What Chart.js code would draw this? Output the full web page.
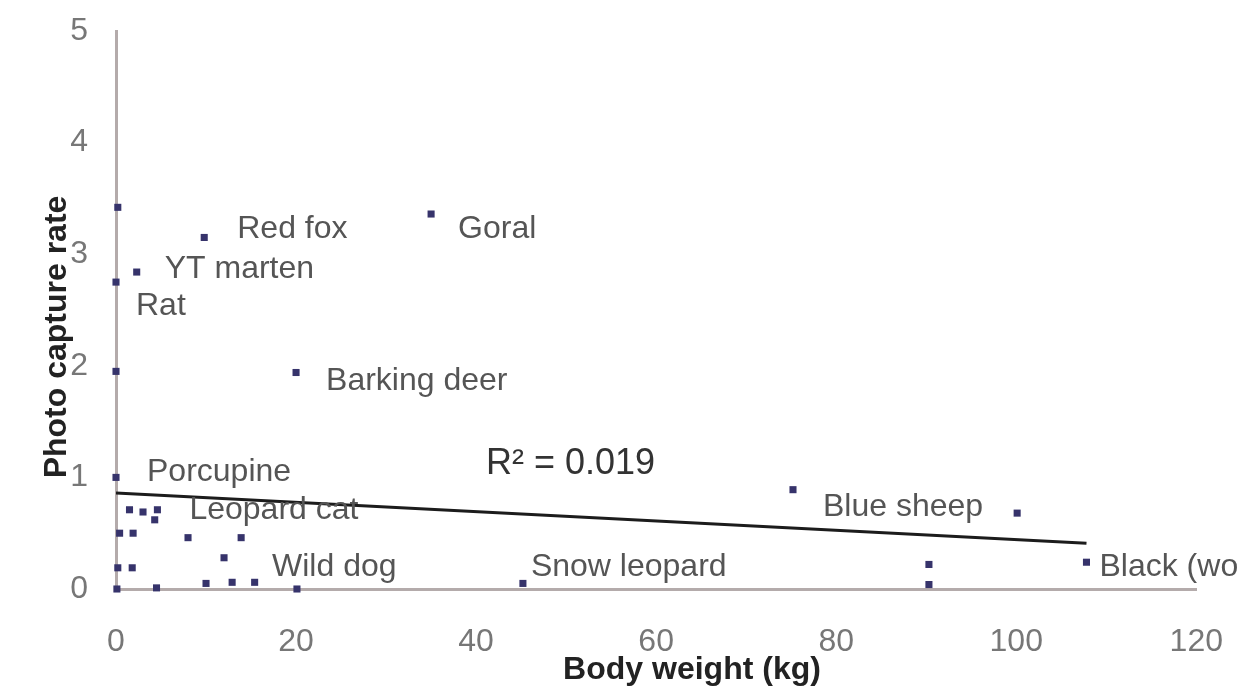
<!DOCTYPE html>
<html>
<head>
<meta charset="utf-8">
<script src="https://cdn.jsdelivr.net/npm/chart.js@4.4.1/dist/chart.umd.min.js"></script>
<style>
  body { margin: 0; background: #fff; }
  #wrap { width: 1249px; height: 699px; }
</style>
</head>
<body>
<div id="wrap"><canvas id="scatterChart"></canvas></div>
<script>
// Body weight (kg) and photo capture rate, one entry per species point
var bodyWeight  = [0.2, 9.8, 2.3, 0, 35, 20, 0, 0,
                   1.5, 3.0, 4.6, 4.3, 0.4, 1.9, 8, 13.9, 12, 0.2, 1.8,
                   0.1, 4.5, 10, 12.9, 15.4, 20.1,
                   45.2, 75.2, 100.1, 90.3, 90.3, 107.8];
var captureRate = [3.42, 3.15, 2.84, 2.75, 3.36, 1.94, 1.95, 1.0,
                   0.71, 0.69, 0.71, 0.62, 0.50, 0.50, 0.46, 0.46, 0.28, 0.19, 0.19,
                   0, 0.01, 0.05, 0.06, 0.06, 0,
                   0.05, 0.89, 0.68, 0.22, 0.04, 0.24];
var speciesNames = ['', 'Red fox', 'YT marten', 'Rat', 'Goral', 'Barking deer', '', 'Porcupine',
                    '', '', 'Leopard cat', '', '', '', '', '', 'Wild dog', '', '',
                    '', '', '', '', '', '',
                    'Snow leopard', 'Blue sheep', '', '', '', 'Black (wo'];

// linear trend line end points
var trendX = [0, 107.8];
var trendY = [0.86, 0.41];
var rSquared = 'R\u00b2 = 0.019';

var xTitle = 'Body weight (kg)';
var yTitle = 'Photo capture rate';

// label offsets from their point (px)
var labelOffsets = {
    'Red fox': [33, -8], 'Goral': [27, 15], 'YT marten': [28, -3], 'Rat': [20, 24],
    'Barking deer': [30, 9], 'Porcupine': [31, -5], 'Leopard cat': [32, 0],
    'Wild dog': [48, 9], 'Snow leopard': [8, -16], 'Blue sheep': [30, 17], 'Black (wo': [13, 5]
};

var fontFamily = '"Liberation Sans", Arial, sans-serif';

var points = bodyWeight.map(function (x, i) { return { x: x, y: captureRate[i] }; });
var trend = trendX.map(function (x, i) { return { x: x, y: trendY[i] }; });

// draws species names, R² text and axis titles
var textPlugin = {
    id: 'textPlugin',
    afterDatasetsDraw: function (chart) {
        var ctx = chart.ctx;
        var meta = chart.getDatasetMeta(0);
        var area = chart.chartArea;
        ctx.save();
        ctx.textBaseline = 'middle';
        ctx.textAlign = 'left';
        ctx.fillStyle = '#555';
        ctx.font = '32px ' + fontFamily;
        meta.data.forEach(function (el, i) {
            var name = speciesNames[i];
            if (!name) return;
            var off = labelOffsets[name] || [10, 0];
            ctx.fillText(name, el.x + off[0], el.y + off[1]);
        });

        // R squared
        ctx.fillStyle = '#333';
        ctx.font = '36px ' + fontFamily;
        ctx.fillText(rSquared, chart.scales.x.getPixelForValue(41.1), chart.scales.y.getPixelForValue(1.12));

        // axis titles
        ctx.fillStyle = '#222';
        ctx.font = 'bold 32px ' + fontFamily;
        ctx.textAlign = 'center';
        ctx.fillText(xTitle, area.left + 576, area.bottom + 81);
        ctx.translate(area.left - 59, area.top + 306);
        ctx.rotate(-Math.PI / 2);
        ctx.fillText(yTitle, 0, 0);
        ctx.restore();
    }
};

var ctx = document.getElementById('scatterChart').getContext('2d');

var myScatter = new Chart(ctx, {
    type: 'scatter',
    data: {
        datasets: [{
            data: points,
            pointStyle: 'rect',
            pointRadius: 5,
            backgroundColor: '#36336b',
            borderColor: '#36336b',
            borderWidth: 0,
            clip: false
        }, {
            type: 'line',
            data: trend,
            showLine: true,
            borderColor: '#1c1c1c',
            borderWidth: 3,
            pointRadius: 0,
            fill: false
        }]
    },
    options: {
        responsive: true,
        maintainAspectRatio: false,
        animation: false,
        layout: { padding: { left: 0, top: 31, right: 47, bottom: 0 } },
        plugins: {
            legend: { display: false },
            tooltip: { enabled: false }
        },
        scales: {
            x: {
                type: 'linear',
                min: 0,
                max: 120,
                grid: { display: false },
                border: { display: true, color: '#b4abab', width: 3 },
                ticks: {
                    stepSize: 20,
                    padding: 26,
                    color: '#777',
                    font: { family: fontFamily, size: 32 }
                },
                afterFit: function (scale) { scale.height = 110; }
            },
            y: {
                min: 0,
                max: 5,
                grid: { display: false },
                border: { display: true, color: '#b4abab', width: 3 },
                ticks: {
                    stepSize: 1,
                    padding: 20,
                    color: '#777',
                    font: { family: fontFamily, size: 32 }
                },
                afterFit: function (scale) {
                    scale.width = 116;
                    scale.paddingTop = 0;
                }
            }
        }
    },
    plugins: [textPlugin]
});
</script>
</body>
</html>
